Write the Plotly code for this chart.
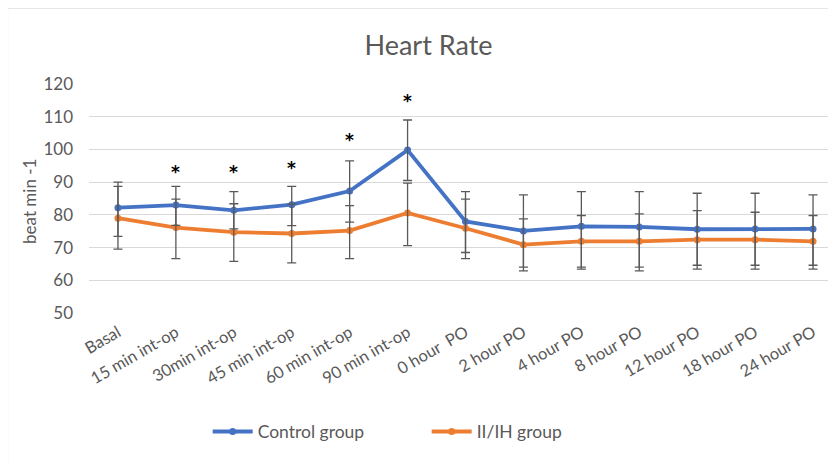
import plotly.graph_objects as go

categories = ["Basal", "15 min int-op", "30min int-op", "45 min int-op", "60 min int-op",
              "90 min int-op", "0 hour  PO", "2 hour PO", "4 hour PO", "8 hour PO",
              "12 hour PO", "18 hour PO", "24 hour PO"]

control_mean = [82.2, 83.0, 81.4, 83.1, 87.3, 99.8, 78.0, 75.1, 76.5, 76.3, 75.6, 75.7, 75.7]
control_err_plus = [7.8, 5.7, 5.7, 5.6, 9.2, 9.2, 9.1, 11.0, 10.6, 10.8, 11.0, 10.9, 10.4]
control_err_minus = [8.8, 6.2, 5.7, 6.4, 9.5, 9.3, 9.5, 11.1, 13.1, 13.4, 12.2, 12.3, 12.3]

iih_mean = [79.0, 76.1, 74.7, 74.3, 75.2, 80.6, 75.9, 70.9, 71.9, 71.9, 72.4, 72.4, 71.9]
iih_err_plus = [9.7, 8.7, 8.7, 9.0, 7.6, 9.1, 8.9, 7.9, 7.9, 8.4, 8.9, 8.4, 7.9]
iih_err_minus = [9.5, 9.5, 8.9, 9.0, 8.6, 10.0, 9.3, 8.0, 7.9, 7.9, 7.8, 7.8, 7.3]

sig_categories = ["15 min int-op", "30min int-op", "45 min int-op", "60 min int-op", "90 min int-op"]
sig_heights = [93.2, 93.2, 94.2, 102.9, 114.8]

y_ticks = [50, 60, 70, 80, 90, 100, 110, 120]
y_title = "beat min -1"

BLUE = "#4472C4"
ORANGE = "#ED7D31"
GREY = "#595959"
FONT = "Lato"

fig = go.Figure()
fig.add_trace(go.Scatter(x=categories, y=control_mean, mode="lines+markers", name="Control group",
                         line=dict(color=BLUE, width=3.8), marker=dict(size=7, color=BLUE)))
fig.add_trace(go.Scatter(x=categories, y=iih_mean, mode="lines+markers", name="II/IH group",
                         line=dict(color=ORANGE, width=3.8), marker=dict(size=7, color=ORANGE)))
for m, ep, em in [(control_mean, control_err_plus, control_err_minus),
                  (iih_mean, iih_err_plus, iih_err_minus)]:
    fig.add_trace(go.Scatter(x=categories, y=m, mode="markers", showlegend=False, hoverinfo="skip",
                             marker=dict(size=1, opacity=0),
                             error_y=dict(type="data", array=ep, arrayminus=em, symmetric=False,
                                          color=GREY, thickness=1.3, width=4.5)))

for c, h in zip(sig_categories, sig_heights):
    fig.add_annotation(x=c, y=h, text="<b>*</b>", showarrow=False, yshift=0,
                       font=dict(family="DejaVu Sans", size=17, color="black"))

# y-axis title
fig.add_annotation(xref="paper", yref="paper", x=-0.0789, y=0.4876, text=y_title, textangle=-90,
                   showarrow=False, xanchor="center", yanchor="middle",
                   font=dict(family=FONT, size=17, color=GREY))

# chart-area border (page body adds an 8px offset, so the border sits at the figure's edge)
fig.add_shape(type="rect", xref="paper", yref="paper", x0=-0.1081, x1=1.05, y0=-1.2, y1=1.3313,
              line=dict(color="#d9d9d9", width=1), fillcolor="rgba(0,0,0,0)", layer="below")

fig.update_layout(
    width=836, height=466,
    margin=dict(l=81.35, r=1.95, t=76, b=160.7, autoexpand=False),
    paper_bgcolor="white", plot_bgcolor="white",
    font=dict(family=FONT, color=GREY),
    title=dict(text="Heart Rate", x=0.503, xanchor="center", y=1 - 38 / 466, yanchor="middle",
               font=dict(family=FONT, size=27, color=GREY)),
    showlegend=True,
    legend=dict(orientation="h", x=0.1576, xanchor="left", y=-0.518, yanchor="middle",
                font=dict(family=FONT, size=17.5, color=GREY), itemwidth=40, entrywidth=164,
                bgcolor="rgba(0,0,0,0)"),
)
fig.update_xaxes(type="category", range=[-0.5, 12.5], showgrid=False, showline=False,
                 zeroline=False, tickangle=-30, tickfont=dict(family=FONT, size=16.5, color=GREY),
                 ticks="", ticklabelstandoff=6, automargin=False)
fig.update_yaxes(range=[50, 120], tickvals=y_ticks, showgrid=True, gridcolor="#d9d9d9", gridwidth=1,
                 showline=False, zeroline=False, tickfont=dict(family=FONT, size=17, color=GREY),
                 ticks="", ticklabelstandoff=15, automargin=False)

fig.write_html("out.html")
